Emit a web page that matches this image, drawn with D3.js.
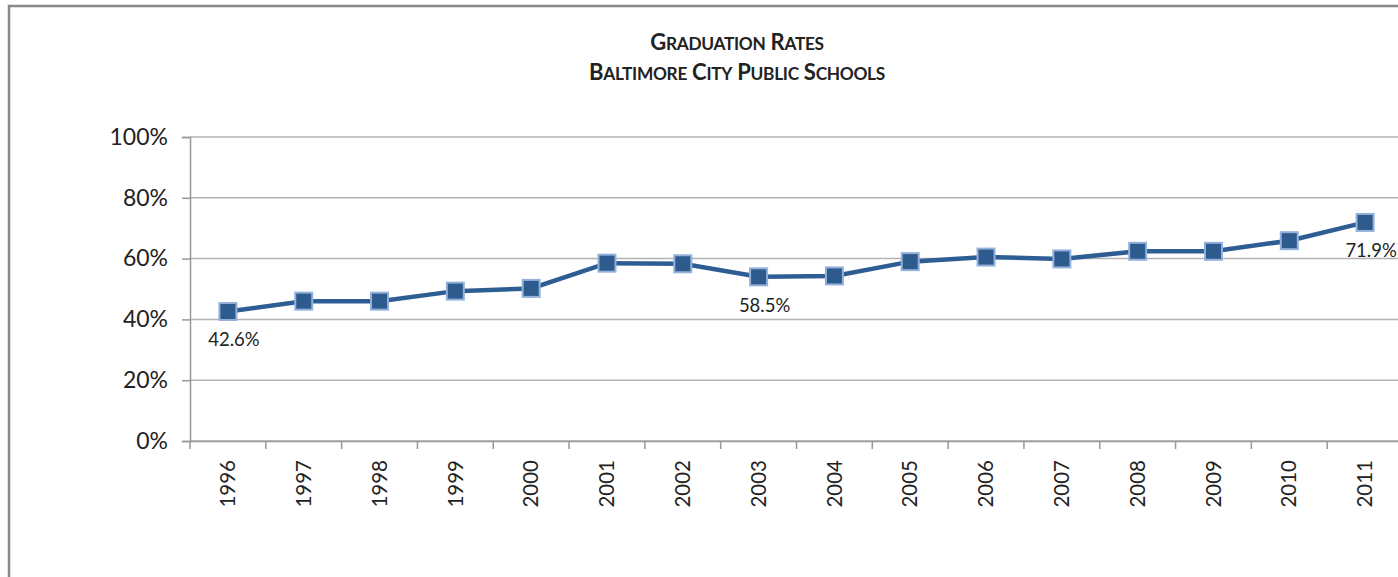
<!DOCTYPE html>
<html>
<head>
<meta charset="utf-8">
<script src="https://cdn.jsdelivr.net/npm/d3@7"></script>
<style>
  body { margin: 0; background: #fff; overflow: hidden; }
  #chart { width: 1398px; height: 577px; }
  text { font-family: "Lato", "Open Sans", sans-serif; fill: #222; }
</style>
</head>
<body>
<div id="chart"></div>
<script>
const years = [1996, 1997, 1998, 1999, 2000, 2001, 2002, 2003, 2004, 2005, 2006, 2007, 2008, 2009, 2010, 2011];
const rates = [42.6, 46.0, 46.0, 49.3, 50.2, 58.5, 58.3, 54.0, 54.3, 59.0, 60.5, 59.9, 62.4, 62.4, 65.9, 71.9];
const yTicks = [0, 20, 40, 60, 80, 100];
const labelYears = [1996, 2003, 2011];
const labelTexts = ["42.6%", "58.5%", "71.9%"];
const titleLines = ["Graduation Rates", "Baltimore City Public Schools"];

function drawChart() {
    const data = years.map((y, i) => ({ year: y, rate: rates[i] }));

    const margin = { top: 137, left: 190 };
    const width = 1213;
    const height = 304;

    const svg = d3.select("#chart")
        .append("svg")
        .attr("width", 1398)
        .attr("height", 577);

    // outer chart border (runs off the right/bottom edge)
    svg.append("rect")
        .attr("x", 9).attr("y", 6)
        .attr("width", 1500).attr("height", 700)
        .attr("fill", "none")
        .attr("stroke", "#888")
        .attr("stroke-width", 2.5);

    // title in small caps, done by hand: capitals big, the rest smaller
    titleLines.forEach((line, i) => {
        const t = svg.append("text")
            .attr("x", 737)
            .attr("y", 50 + i * 30)
            .attr("text-anchor", "middle")
            .style("font-weight", "bold")
            .style("letter-spacing", "-0.3px");
        line.split(" ").forEach((word, j) => {
            t.append("tspan")
                .style("font-size", "22px")
                .text((j > 0 ? " " : "") + word[0]);
            t.append("tspan")
                .style("font-size", "17.3px")
                .text(word.slice(1).toUpperCase());
        });
    });

    const g = svg.append("g")
        .attr("transform", `translate(${margin.left},${margin.top})`);

    const x = d3.scaleBand()
        .domain(years)
        .range([0, width]);

    const y = d3.scaleLinear()
        .domain([0, 100])
        .range([height, 0]);

    // gridlines
    g.selectAll("line.grid")
        .data(yTicks)
        .enter()
        .append("line")
        .attr("x1", 0).attr("x2", width)
        .attr("y1", d => y(d)).attr("y2", d => y(d))
        .attr("stroke", "#b3b3b3")
        .attr("stroke-width", 1.5);

    const yAxis = g.append("g")
        .call(d3.axisLeft(y).tickValues(yTicks).tickFormat(d => d + "%").tickSize(8).tickPadding(14));
    yAxis.select(".domain").attr("stroke", "#999").attr("stroke-width", 1.5);
    yAxis.selectAll(".tick line").attr("stroke", "#999").attr("stroke-width", 1.5);
    yAxis.selectAll(".tick text")
        .style("font-size", "23px")
        .style("font-family", "Lato, 'Open Sans', sans-serif")
        .attr("fill", "#222");

    const xAxis = g.append("g")
        .attr("transform", `translate(0,${height})`)
        .call(d3.axisBottom(x).tickSize(0).tickPadding(0));
    xAxis.select(".domain").attr("stroke", "#999").attr("stroke-width", 1.5);
    xAxis.selectAll(".tick text")
        .attr("transform", "rotate(-90)")
        .attr("x", -19)
        .attr("y", 0)
        .attr("dy", "0.35em")
        .style("text-anchor", "end")
        .style("font-size", "20.5px")
        .style("font-family", "Lato, 'Open Sans', sans-serif")
        .attr("fill", "#222");

    // category boundary ticks
    g.selectAll("line.xtick")
        .data(years)
        .enter()
        .append("line")
        .attr("x1", d => x(d)).attr("x2", d => x(d))
        .attr("y1", height).attr("y2", height + 8)
        .attr("stroke", "#999")
        .attr("stroke-width", 1.5);

    const cx = d => x(d.year) + x.bandwidth() / 2;

    const line = d3.line()
        .x(cx)
        .y(d => y(d.rate));

    g.append("path")
        .datum(data)
        .attr("fill", "none")
        .attr("stroke", "#2e5d93")
        .attr("stroke-width", 4.5)
        .attr("d", line);

    g.selectAll("rect.marker")
        .data(data)
        .enter()
        .append("rect")
        .attr("x", d => cx(d) - 8.5)
        .attr("y", d => y(d.rate) - 8.5)
        .attr("width", 17)
        .attr("height", 17)
        .attr("fill", "#2e5b8e")
        .attr("stroke", "#93b1da")
        .attr("stroke-width", 2);

    g.selectAll("text.label")
        .data(labelYears)
        .enter()
        .append("text")
        .attr("x", d => x(d) + x.bandwidth() / 2 + 6)
        .attr("y", d => y(rates[years.indexOf(d)]) + 35)
        .attr("text-anchor", "middle")
        .style("font-size", "18.5px")
        .text((d, i) => labelTexts[i]);
}

drawChart();
</script>
</body>
</html>
